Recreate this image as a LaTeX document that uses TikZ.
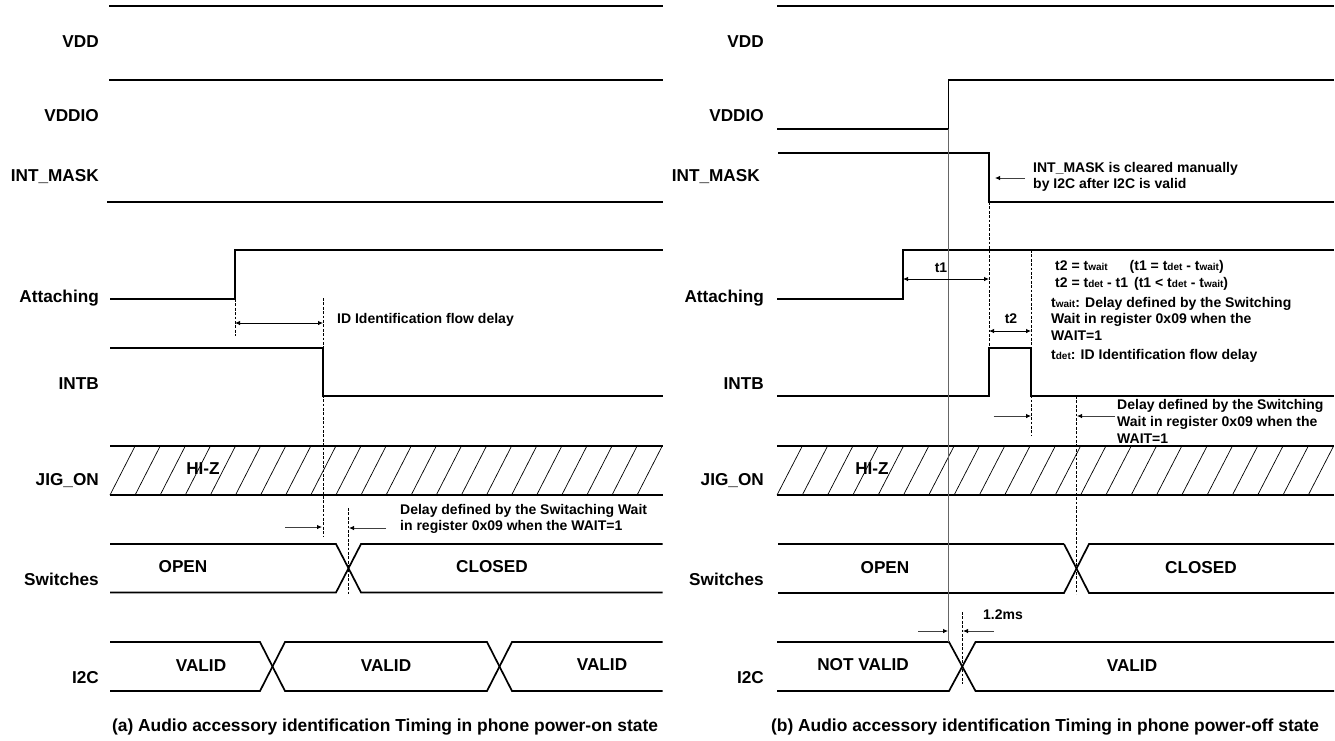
\documentclass[tikz,border=0pt]{standalone}
\usepackage{fontspec}
\setmainfont{Liberation Sans}
\usetikzlibrary{arrows.meta}
\newcommand{\lowtxt}[1]{{\fontsize{10}{10}\selectfont #1}}
\tikzset{
  sig/.style={line width=1.7pt},
  siglt/.style={line width=1.3pt},
  hatchln/.style={line width=0.7pt},
  guide/.style={line width=1pt, dash pattern=on 2.8pt off 1.6pt},
  dim/.style={line width=0.8pt, {Latex[length=5pt,width=4.5pt]}-{Latex[length=5pt,width=4.5pt]}},
  dimr/.style={line width=0.8pt, black!75, -{Latex[length=5pt,width=4.5pt,black]}},
  rowlbl/.style={anchor=east, inner sep=0pt, font=\fontsize{17.2}{17.2}\selectfont\bfseries},
  vallbl/.style={inner sep=0pt, font=\fontsize{17.2}{17.2}\selectfont\bfseries},
  note/.style={anchor=west, inner sep=0pt, font=\fontsize{14}{14}\selectfont\bfseries},
  capt/.style={inner sep=0pt, font=\fontsize{17.4}{17.4}\selectfont\bfseries}
}
\begin{document}
\begin{tikzpicture}[x=1pt, y=-1pt]
  \useasboundingbox (0,0) rectangle (1335,740);
  % left panel
  \draw[sig] (109,6) -- (662.5,6);
  \draw[sig] (109,80) -- (662.5,80);
  \draw[siglt] (107,202) -- (662.5,202);
  \draw[sig] (110,299) -- (235,299) -- (235,250) -- (662.5,250);
  \draw[sig] (110,348) -- (323,348) -- (323,396) -- (662.5,396);
  \draw[sig] (110,446) -- (662.5,446);
  \draw[sig] (110,495) -- (662.5,495);
  \foreach \k in {0,...,21}
    \draw[hatchln] ({110+25.1*\k},495) -- ({135.1+25.1*\k},446);
  \draw[sig] (110,544) -- (336,544) -- (361,592.5) -- (662.5,592.5);
  \draw[sig] (110,592.5) -- (336,592.5) -- (361,544) -- (662.5,544);
  \draw[sig] (110,642) -- (260,642) -- (285,691) -- (487,691) -- (512,642) -- (662.5,642);
  \draw[sig] (110,691) -- (260,691) -- (285,642) -- (487,642) -- (512,691) -- (662.5,691);
  \draw[guide] (235,299) -- (235,336);
  \draw[guide] (323,298) -- (323,537);
  \draw[guide] (348,508) -- (348,594);
  \draw[dim] (235,323) -- (323,323);
  \draw[dimr] (285,527) -- (322,527);
  \draw[dimr] (386,528) -- (349,528);
  \node[rowlbl] (vddA) at (99,42) {VDD};
  \node[rowlbl] (vddioA) at (99,116) {VDDIO};
  \node[rowlbl] (maskA) at (99,177) {INT\_MASK};
  \node[rowlbl] (attA) at (99,298) {Attaching};
  \node[rowlbl] (intbA) at (99,384) {INTB};
  \node[rowlbl] (jigA) at (99,481) {JIG\_ON};
  \node[rowlbl] (swA) at (99,579) {Switches};
  \node[rowlbl] (iicA) at (99,678) {I2C};
  \node[vallbl] (hizA) at (203,469) {HI-Z};
  \node[vallbl] (openA) at (183,567) {OPEN};
  \node[vallbl] (closedA) at (492,567) {CLOSED};
  \node[vallbl] (validA) at (201,666) {VALID};
  \node[vallbl] (validB) at (386,666) {VALID};
  \node[vallbl] (validC) at (602,665) {VALID};
  \node[note] (flowA) at (337,320) {ID Identification flow delay};
  \node[note] (delayA) at (400,511) {Delay defined by the Switaching Wait};
  \node[note] (delayB) at (400,527) {in register 0x09 when the WAIT=1};
  \node[capt] (captA) at (385,727) {(a) Audio accessory identification Timing in phone power-on state};
  % right panel
  \draw[siglt] (777,6) -- (1334,6);
  \draw[sig] (777,129) -- (948.5,129) -- (948.5,80) -- (1334,80);
  \draw[siglt] (778,153) -- (989,153) -- (989,202) -- (1334,202);
  \draw[sig] (777,299) -- (903,299) -- (903,250) -- (1334,250);
  \draw[sig] (777,396) -- (989,396) -- (989,348) -- (1031,348) -- (1031,396) -- (1334,396);
  \draw[sig] (777,446) -- (1334,446);
  \draw[sig] (777,495) -- (1334,495);
  \foreach \k in {0,...,21}
    \draw[hatchln] ({777+25.3*\k},495) -- ({802.3+25.3*\k},446);
  \draw[siglt] (778,544) -- (1064,544);
  \draw[sig] (1064,544) -- (1089,593) -- (1334,593);
  \draw[sig] (778,593) -- (1064,593) -- (1089,544) -- (1334,544);
  \draw[sig] (777,642) -- (949,642) -- (975.5,691) -- (1334,691);
  \draw[sig] (777,691) -- (949,691) -- (975.5,642) -- (1334,642);
  \draw[black!60, line width=1pt] (948.5,129) -- (948.5,642);
  \draw[guide] (989,202) -- (989,348);
  \draw[guide] (1031,250) -- (1031,436);
  \draw[guide] (1076,396) -- (1076,594);
  \draw[guide] (962,612) -- (962,684);
  \draw[dim] (903,279) -- (989,279);
  \draw[dim] (989,331) -- (1031,331);
  \draw[dimr] (1025,178) -- (995,178);
  \draw[dimr] (993.5,416) -- (1031,416);
  \draw[dimr] (1115,416) -- (1077,416);
  \draw[dimr] (918,631) -- (948,631);
  \draw[dimr] (994,631) -- (963,631);
  \node[rowlbl] (vddR) at (764,42) {VDD};
  \node[rowlbl] (vddioR) at (764,116) {VDDIO};
  \node[rowlbl] (maskR) at (760,177) {INT\_MASK};
  \node[rowlbl] (attR) at (764,298) {Attaching};
  \node[rowlbl] (intbR) at (764,384) {INTB};
  \node[rowlbl] (jigR) at (764,481) {JIG\_ON};
  \node[rowlbl] (swR) at (764,579) {Switches};
  \node[rowlbl] (iicR) at (764,678) {I2C};
  \node[vallbl] (hizR) at (872,469) {HI-Z};
  \node[vallbl] (openR) at (885,568) {OPEN};
  \node[vallbl] (closedR) at (1201,568) {CLOSED};
  \node[vallbl] (notvalidR) at (863,665) {NOT VALID};
  \node[vallbl] (validR) at (1132,666) {VALID};
  \node[note] (clearA) at (1033,169) {INT\_MASK is cleared manually};
  \node[note] (clearB) at (1033,185) {by I2C after I2C is valid};
  \node[note] (tone) at (941,268) [anchor=center] {t1};
  \node[note] (ttwo) at (1011,319) [anchor=center] {t2};
  \node[note] (eqA) at (1055,267) {t2 = t\lowtxt{wait}\hspace{22pt}(t1 = t\lowtxt{det} - t\lowtxt{wait})};
  \node[note] (eqB) at (1055,284) {t2 = t\lowtxt{det} - t1\hspace{6pt}(t1 < t\lowtxt{det} - t\lowtxt{wait})};
  \node[note] (waitA) at (1051,304) {t\lowtxt{wait}: Delay defined by the Switching};
  \node[note] (waitB) at (1051,320) {Wait in register 0x09 when the};
  \node[note] (waitC) at (1051,336) {WAIT=1};
  \node[note] (detA) at (1051,356) {t\lowtxt{det}: ID Identification flow delay};
  \node[note] (swdA) at (1117,406) {Delay defined by the Switching};
  \node[note] (swdB) at (1117,423) {Wait in register 0x09 when the};
  \node[note] (swdC) at (1117,439) {WAIT=1};
  \node[note] (msA) at (983,615) {1.2ms};
  \node[capt] (captB) at (1045,727) {(b) Audio accessory identification Timing in phone power-off state};
\end{tikzpicture}
\end{document}
